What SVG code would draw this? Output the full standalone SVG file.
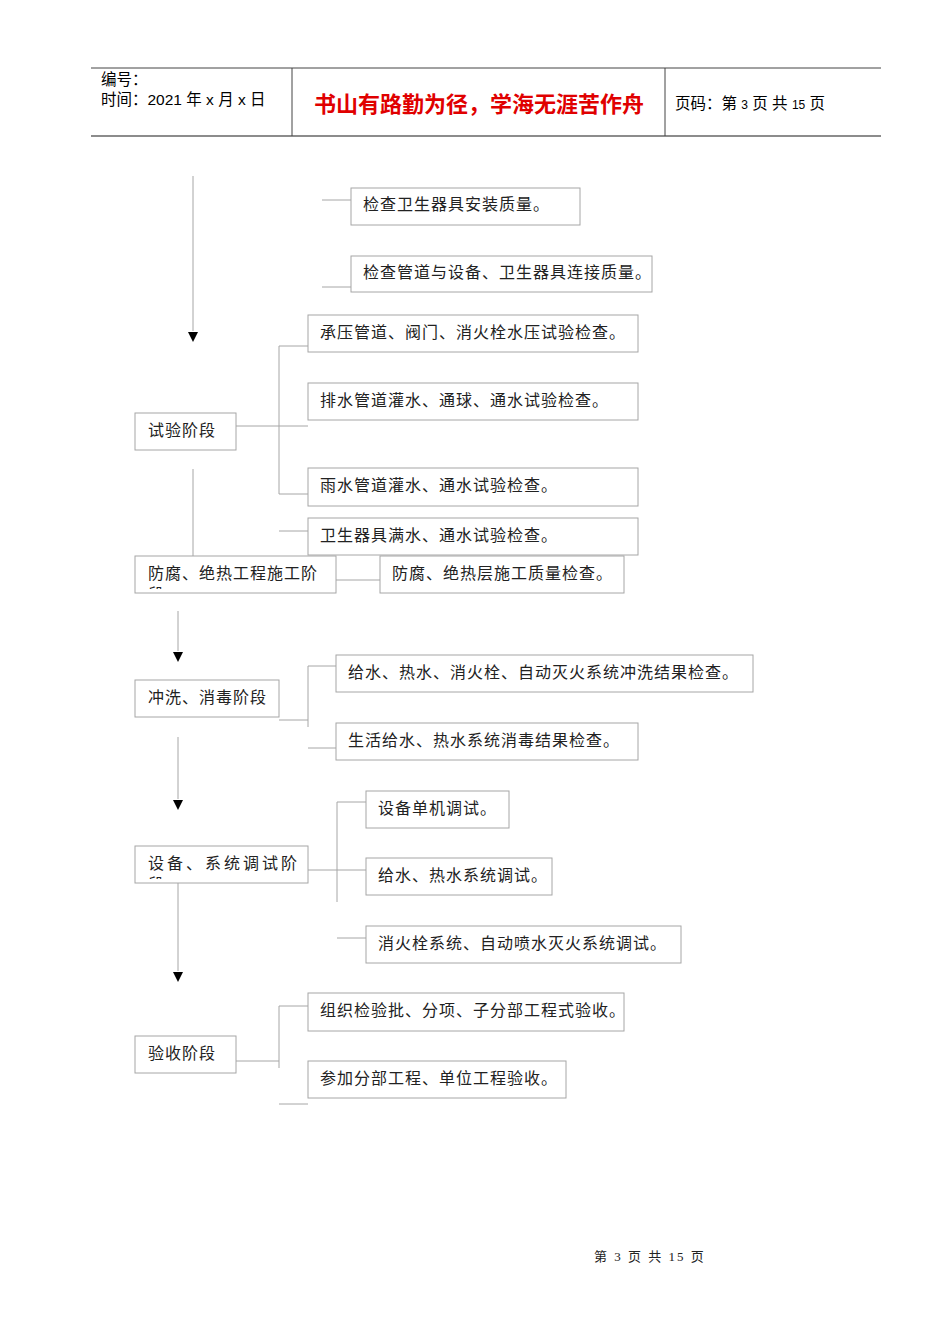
<svg xmlns="http://www.w3.org/2000/svg" width="950" height="1344" viewBox="0 0 950 1344">
<style>
.b{fill:#fff;stroke:#a6a6a6;stroke-width:1}
.t{font-family:"Liberation Serif","Noto Sans CJK SC",serif;font-size:16px;fill:#222;letter-spacing:1px}
.c line{stroke:#a6a6a6;stroke-width:1}
.h{font-family:"Liberation Sans","Noto Sans CJK SC",sans-serif;font-size:15.5px;fill:#000}
.a{fill:#000}
</style>
<defs><clipPath id="cp1"><rect x="135" y="556" width="201" height="33"/></clipPath><clipPath id="cp2"><rect x="135" y="846" width="173" height="33"/></clipPath></defs>
<g id="header">
<line x1="91" y1="68" x2="881" y2="68" stroke="#444"/>
<line x1="91" y1="136" x2="881" y2="136" stroke="#666" stroke-width="1.5"/>
<line x1="292" y1="68" x2="292" y2="136" stroke="#444"/>
<line x1="665" y1="68" x2="665" y2="136" stroke="#444"/>
<text class="h" x="101" y="85">编号：</text>
<text class="h" x="101" y="105">时间：2021 年 x 月 x 日</text>
<text x="479" y="112" text-anchor="middle" font-family="Liberation Sans,Noto Sans CJK SC,sans-serif" font-size="22" font-weight="bold" fill="#e00000">书山有路勤为径，学海无涯苦作舟</text>
<text class="h" x="675" y="109">页码：第 <tspan font-size="12">3</tspan> 页  共 <tspan font-size="12">15</tspan> 页</text>
</g>
<g class="c" id="connectors">
<line x1="193" y1="176" x2="193" y2="331"/>
<line x1="322" y1="200" x2="351" y2="200"/>
<line x1="322" y1="287" x2="351" y2="287"/>
<line x1="236" y1="426" x2="308" y2="426"/>
<line x1="279" y1="346" x2="279" y2="494"/>
<line x1="279" y1="346" x2="308" y2="346"/>
<line x1="279" y1="494" x2="308" y2="494"/>
<line x1="279" y1="531" x2="308" y2="531"/>
<line x1="193" y1="469" x2="193" y2="556"/>
<line x1="336" y1="580" x2="380" y2="580"/>
<line x1="178" y1="611" x2="178" y2="651"/>
<line x1="279" y1="720" x2="308" y2="720"/>
<line x1="308" y1="666" x2="308" y2="727"/>
<line x1="308" y1="666" x2="336" y2="666"/>
<line x1="308" y1="748" x2="336" y2="748"/>
<line x1="178" y1="737" x2="178" y2="799"/>
<line x1="308" y1="870" x2="366" y2="870"/>
<line x1="337" y1="802" x2="337" y2="902"/>
<line x1="337" y1="802" x2="366" y2="802"/>
<line x1="337" y1="938" x2="366" y2="938"/>
<line x1="178" y1="883" x2="178" y2="971"/>
<line x1="236" y1="1061" x2="279" y2="1061"/>
<line x1="279" y1="1006" x2="279" y2="1068"/>
<line x1="279" y1="1006" x2="308" y2="1006"/>
<line x1="279" y1="1104" x2="308" y2="1104"/>
<polygon class="a" points="188,332 198,332 193,342"/>
<polygon class="a" points="173,652 183,652 178,662"/>
<polygon class="a" points="173,800 183,800 178,810"/>
<polygon class="a" points="173,972 183,972 178,982"/>
</g>
<g id="n1"><rect class="b" x="351" y="188" width="229" height="37"/><text class="t" x="363" y="210">检查卫生器具安装质量。</text></g>
<g id="n2"><rect class="b" x="351" y="256" width="301" height="36"/><text class="t" x="363" y="278">检查管道与设备、卫生器具连接质量。</text></g>
<g id="n3"><rect class="b" x="308" y="315" width="330" height="37"/><text class="t" x="320" y="338">承压管道、阀门、消火栓水压试验检查。</text></g>
<g id="n4"><rect class="b" x="308" y="383" width="330" height="37"/><text class="t" x="320" y="406">排水管道灌水、通球、通水试验检查。</text></g>
<g id="s1"><rect class="b" x="135" y="413" width="101" height="37"/><text class="t" x="148" y="436">试验阶段</text></g>
<g id="n5"><rect class="b" x="308" y="468" width="330" height="38"/><text class="t" x="320" y="491">雨水管道灌水、通水试验检查。</text></g>
<g id="n6"><rect class="b" x="308" y="518" width="330" height="37"/><text class="t" x="320" y="541">卫生器具满水、通水试验检查。</text></g>
<g id="s2"><rect class="b" x="135" y="556" width="201" height="37"/><g clip-path="url(#cp1)"><text class="t" x="148" y="579">防腐、绝热工程施工阶</text><text class="t" x="148" y="600">段</text></g></g>
<g id="n7"><rect class="b" x="380" y="556" width="244" height="37"/><text class="t" x="392" y="579">防腐、绝热层施工质量检查。</text></g>
<g id="s3"><rect class="b" x="135" y="680" width="144" height="37"/><text class="t" x="148" y="703">冲洗、消毒阶段</text></g>
<g id="n8"><rect class="b" x="336" y="655" width="417" height="37"/><text class="t" x="348" y="678">给水、热水、消火栓、自动灭火系统冲洗结果检查。</text></g>
<g id="n9"><rect class="b" x="336" y="723" width="302" height="37"/><text class="t" x="348" y="746">生活给水、热水系统消毒结果检查。</text></g>
<g id="s4"><rect class="b" x="135" y="846" width="173" height="37"/><g clip-path="url(#cp2)"><text class="t" x="148" y="869" style="letter-spacing:3px">设备、系统调试阶</text><text class="t" x="148" y="890">段</text></g></g>
<g id="n10"><rect class="b" x="366" y="791" width="143" height="37"/><text class="t" x="378" y="814">设备单机调试。</text></g>
<g id="n11"><rect class="b" x="366" y="858" width="186" height="37"/><text class="t" x="378" y="881">给水、热水系统调试。</text></g>
<g id="n12"><rect class="b" x="366" y="926" width="315" height="37"/><text class="t" x="378" y="949">消火栓系统、自动喷水灭火系统调试。</text></g>
<g id="s5"><rect class="b" x="135" y="1036" width="101" height="37"/><text class="t" x="148" y="1059">验收阶段</text></g>
<g id="n13"><rect class="b" x="308" y="993" width="316" height="38"/><text class="t" x="320" y="1016">组织检验批、分项、子分部工程式验收。</text></g>
<g id="n14"><rect class="b" x="308" y="1061" width="258" height="37"/><text class="t" x="320" y="1084">参加分部工程、单位工程验收。</text></g>
<g id="footer"><text x="594" y="1261" font-family="Liberation Serif,Noto Sans CJK SC,serif" font-size="13" fill="#222" letter-spacing="2">第 3 页 共 15 页</text></g>
</svg>
